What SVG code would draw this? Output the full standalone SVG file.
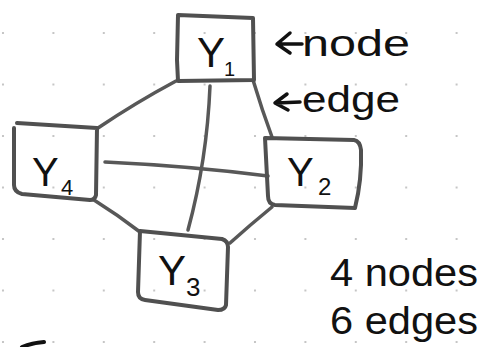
<svg xmlns="http://www.w3.org/2000/svg" width="480" height="347" viewBox="0 0 480 347">
<defs>
<pattern id="dots" x="3" y="33" width="50.4" height="51.5" patternUnits="userSpaceOnUse">
<circle cx="0" cy="0" r="1.1" fill="#b8b8b8"/>
<circle cx="50.4" cy="0" r="1.1" fill="#b8b8b8"/>
<circle cx="0" cy="51.5" r="1.1" fill="#b8b8b8"/>
<circle cx="50.4" cy="51.5" r="1.1" fill="#b8b8b8"/>
</pattern>
<style>
.box{fill:none;stroke:#505050;stroke-width:4;stroke-linejoin:round;stroke-linecap:round}
.edge{fill:none;stroke:#585858;stroke-width:3.5;stroke-linecap:round}
.lbl{font-family:"Liberation Sans",Arial,sans-serif;fill:#111}
.note{font-family:"Liberation Sans",Arial,sans-serif;fill:#111}
.arrow{fill:none;stroke:#111;stroke-width:3.5;stroke-linecap:round;stroke-linejoin:round}
</style>
</defs>
<rect width="480" height="347" fill="#fff"/>
<rect width="480" height="347" fill="url(#dots)"/>
<g id="connectors">
<path class="edge" d="M176,81 Q135,103 98,128"/>
<path class="edge" d="M253,80 Q262,110 272,137"/>
<path class="edge" d="M210,86 Q207,160 188,230"/>
<path class="edge" d="M105,162 Q190,166 268,176"/>
<path class="edge" d="M94,200 Q118,215 140,232"/>
<path class="edge" d="M272,207 Q250,225 230,243"/>
</g>
<g id="Y1">
<path class="box" d="M178,15 L253,18 L254,80 L178,81 L177,60 Z"/>
<text class="lbl" x="197" y="67" font-size="42">Y</text>
<text class="lbl" x="224" y="76" font-size="20">1</text>
</g>
<g id="Y4">
<path class="box" d="M17,123 L97,128 L96,195 Q95,200 90,200 L22,194 Q14,192 14,185 L14,128"/>
<text class="lbl" x="32" y="186" font-size="40">Y</text>
<text class="lbl" x="61" y="195" font-size="22">4</text>
</g>
<g id="Y2">
<path class="box" d="M265,138 L354,140 Q360,141 361,150 Q362,180 355,208 L275,205 Q268,204 268,196 Z"/>
<text class="lbl" x="287" y="186" font-size="40">Y</text>
<text class="lbl" x="318" y="195" font-size="24">2</text>
</g>
<g id="Y3">
<path class="box" d="M140,231 L222,239 Q228,241 228,247 L226,305 Q225,310 218,310 L145,300 Q138,299 138,292 Z"/>
<text class="lbl" x="158" y="285" font-size="42">Y</text>
<text class="lbl" x="186" y="296" font-size="26">3</text>
</g>
<g id="annotations">
<path class="arrow" d="M302,44 L278,44 M290,33 L277,44 L290,53"/>
<text class="note" x="302" y="56" font-size="36" textLength="108" lengthAdjust="spacingAndGlyphs">node</text>
<path class="arrow" d="M300,102 L276,103 M287,94 L275,103 L288,110"/>
<text class="note" x="302" y="112" font-size="36" textLength="98" lengthAdjust="spacingAndGlyphs">edge</text>
<text class="note" x="330" y="286" font-size="38" textLength="148" lengthAdjust="spacingAndGlyphs">4 nodes</text>
<text class="note" x="330" y="334" font-size="38" textLength="148" lengthAdjust="spacingAndGlyphs">6 edges</text>
<path d="M22,347 Q32,343 44,342" fill="none" stroke="#111" stroke-width="4" stroke-linecap="round"/>
</g>
</svg>
